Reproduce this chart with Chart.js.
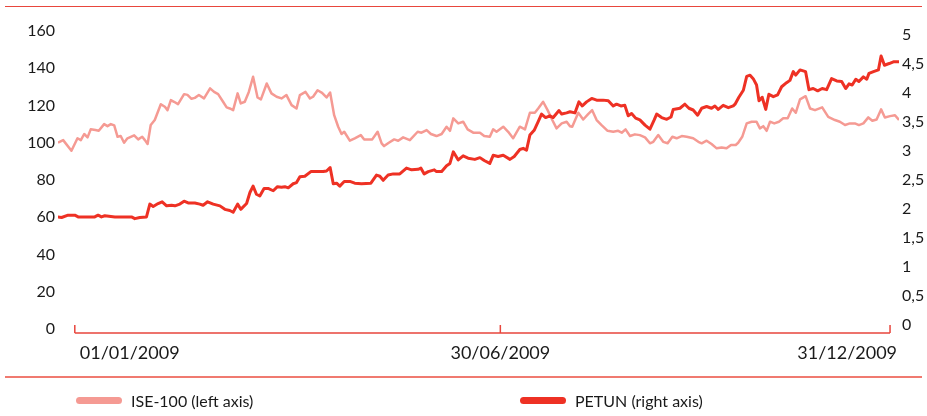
<!DOCTYPE html>
<html>
<head>
<meta charset="utf-8">
<script src="https://cdn.jsdelivr.net/npm/chart.js@4.4.1/dist/chart.umd.min.js"></script>
<style>
  html, body { margin: 0; padding: 0; background: #fff; }
  body { width: 927px; height: 416px; position: relative; overflow: hidden; font-family: Lato, sans-serif; color: #1a1a1a; }
  #chart { position: absolute; left: 0; top: 0; }
  .rule { position: absolute; left: 5px; width: 917px; }
  .rule.top { top: 6px; height: 1px; background: #e8463d; }
  .rule.bottom { top: 376px; height: 2px; background: #f07a70; }
  .legend { position: absolute; top: 390px; height: 20px; display: flex; align-items: center; font-size: 16px; }
  .swatch { width: 46px; height: 7px; border-radius: 4px; margin-right: 9px; }
</style>
</head>
<body>
<canvas id="chart" width="927" height="416"></canvas>
<div class="rule top"></div>
<div class="rule bottom"></div>
<div class="legend" style="left:76px"><span class="swatch" style="background:#f59a93"></span>ISE-100 (left axis)</div>
<div class="legend" style="left:520px"><span class="swatch" style="background:#ee3124"></span>PETUN (right axis)</div>
<script>
// ISE-100 (sol eksen) - gün (01/01/2009 = 0) ve değer
const iseDays = [-7.5,-5.2,-1.5,1.2,2.7,4.2,5.7,7.1,9.2,10.7,13.1,14.6,16.1,17.6,19.1,20.5,22.0,23.5,26.5,28.3,
  30.1,31.3,32.5,33.9,35.7,38.4,40.2,41.4,42.9,44.3,46.1,48.8,50.3,52.1,53.6,55.4,57.7,60.4,62.2,64.0,
  66.2,67.8,69.2,70.7,72.7,74.1,75.9,77.7,79.6,81.6,83.1,85.7,87.8,90.1,92.3,94.5,96.8,99.0,100.5,103.0,
  105.0,106.4,108.4,110.4,112.4,114.0,115.8,117.6,119.1,120.3,122.8,125.0,127.7,129.2,131.3,132.8,135.2,137.0,138.1,140.2,
  142.6,144.4,146.6,149.6,153.1,154.8,157.1,159.0,161.5,163.8,166.0,167.5,169.0,171.2,173.4,175.4,177.9,180.9,182.8,185.3,
  186.8,188.3,191.3,193.5,195.7,198.7,201.0,203.2,205.4,206.9,209.1,211.1,213.2,215.1,217.4,219.6,221.1,222.1,224.8,227.0,
  229.2,231.0,233.0,235.2,237.9,240.4,242.6,244.2,245.9,247.9,250.1,252.3,254.6,256.8,258.3,260.5,262.7,264.7,266.8,268.7,
  271.0,273.2,276.1,278.4,279.9,282.1,284.3,286.6,288.8,291.0,293.0,295.1,296.2,298.0,300.0,302.2,304.4,305.9,307.4,308.9,
  310.4,312.3,314.4,316.3,318.3,320.3,321.9,323.8,326.3,328.3,330.5,333.7,336.4,339.4,341.6,343.9,346.1,348.3,350.1,352.1,
  354.3,356.1,358.0,360.0,361.7,364.0,366.2,368.0];
const iseValues = [100.0,101.4,95.7,102.4,101.4,104.7,102.9,107.2,106.8,106.4,110.0,108.9,110.0,109.3,103.2,103.6,100.0,102.4,104.0,101.8,
  103.2,101.4,99.3,109.5,112.2,120.7,119.3,117.5,122.9,122.0,120.7,126.1,125.7,123.6,124.1,125.6,123.8,129.2,127.3,126.1,
  122.0,119.0,118.4,117.5,126.5,121.1,122.0,127.3,135.4,124.3,123.3,131.8,126.5,124.7,123.8,125.6,120.2,118.4,125.6,127.3,
  123.8,124.7,128.2,126.8,124.3,127.0,114.8,108.6,104.7,105.9,101.1,102.4,104.1,101.8,101.8,101.8,105.9,99.7,98.2,100.0,
  101.8,101.1,102.9,101.4,105.9,105.4,106.8,104.7,103.6,104.7,108.6,106.4,113.1,110.4,111.3,107.2,105.4,105.4,103.6,103.2,
  107.2,105.9,108.6,105.9,102.4,108.6,107.2,116.1,116.1,118.4,122.0,117.5,112.2,107.7,110.4,111.3,108.9,108.6,116.1,112.5,
  115.4,117.5,112.2,109.5,106.4,105.9,106.4,105.4,107.2,103.6,104.5,104.1,102.9,99.7,100.5,104.1,100.5,99.7,103.2,102.4,
  103.6,103.2,102.4,100.5,99.7,101.1,99.3,97.0,97.5,97.0,98.8,98.8,100.0,103.2,110.4,111.3,111.3,107.7,108.9,106.4,
  111.3,110.4,111.3,113.1,113.1,118.4,116.1,123.3,125.0,118.4,117.5,119.0,113.9,112.2,111.3,109.5,110.4,110.4,109.5,110.4,
  113.6,111.8,112.5,117.9,113.6,114.3,114.8,112.2];

// PETUN (sağ eksen)
const petunDays = [-7.7,-5.9,-3.0,0,1.5,5.9,8.9,10.4,11.9,13.4,17.9,22.3,25.3,26.8,29.0,32.0,33.5,35.0,37.2,39.0,
  41.0,43.2,44.7,46.9,48.8,50.6,53.6,55.8,57.3,59.3,61.8,64.8,67.0,69.2,70.7,72.7,74.1,76.7,78.2,79.6,
  81.1,82.6,84.5,86.3,88.6,90.5,92.3,93.8,95.3,97.5,99.0,100.5,102.7,105.4,107.9,110.9,112.4,114.0,115.4,116.9,
  118.3,120.3,122.8,125.0,128.0,132.2,134.7,136.2,137.7,139.9,142.2,145.1,148.1,150.4,153.3,154.5,156.0,157.8,160.5,161.5,
  163.8,166.0,167.5,169.0,171.2,173.4,175.6,178.6,180.9,182.8,185.3,186.8,189.0,191.3,194.3,196.2,198.7,200.2,201.7,203.2,
  205.1,206.9,208.4,210.2,212.1,213.6,216.2,217.4,219.6,221.1,223.3,225.1,226.6,228.5,230.8,233.0,235.9,238.2,240.4,241.9,
  243.8,245.6,247.1,248.6,250.4,252.3,254.6,256.8,258.7,259.8,262.0,264.3,266.2,267.2,270.2,272.4,274.2,276.1,278.1,279.9,
  282.1,284.3,285.8,287.3,289.5,291.8,294.0,294.8,296.5,298.5,300.0,301.5,302.9,304.4,305.5,306.9,308.5,309.9,311.9,313.8,
  315.6,317.8,319.3,320.8,321.9,323.8,326.3,327.8,329.7,331.7,333.7,335.7,337.9,340.2,342.4,344.2,345.7,347.1,348.7,350.1,
  352.1,353.6,354.6,356.6,358.8,360.0,361.5,363.6,365.5,368.0];
const petunValues = [1.86,1.85,1.89,1.89,1.86,1.86,1.86,1.89,1.86,1.88,1.86,1.86,1.86,1.83,1.85,1.86,2.08,2.04,2.09,2.12,
  2.05,2.06,2.05,2.08,2.13,2.10,2.10,2.08,2.06,2.12,2.08,2.05,1.99,1.97,1.94,2.08,1.99,2.09,2.28,2.39,
  2.25,2.22,2.35,2.35,2.31,2.38,2.37,2.38,2.36,2.43,2.45,2.55,2.56,2.64,2.64,2.64,2.65,2.71,2.43,2.44,
  2.39,2.47,2.47,2.44,2.43,2.44,2.58,2.56,2.49,2.58,2.60,2.60,2.70,2.67,2.68,2.70,2.60,2.64,2.67,2.64,
  2.64,2.74,2.78,2.98,2.84,2.91,2.87,2.85,2.88,2.83,2.78,2.92,2.90,2.92,2.85,2.90,3.02,3.04,3.01,3.27,
  3.35,3.50,3.63,3.57,3.60,3.57,3.69,3.63,3.65,3.67,3.65,3.84,3.77,3.84,3.90,3.87,3.87,3.86,3.77,3.80,
  3.77,3.78,3.60,3.64,3.56,3.53,3.44,3.37,3.53,3.63,3.57,3.54,3.58,3.71,3.73,3.80,3.73,3.70,3.61,3.73,
  3.76,3.73,3.77,3.71,3.78,3.74,3.77,3.80,3.92,4.04,4.28,4.30,4.24,4.13,3.86,3.92,3.71,3.97,3.93,3.96,
  4.10,4.17,4.21,4.36,4.30,4.39,4.36,4.05,4.07,4.03,4.07,4.05,4.24,4.20,4.19,4.07,4.15,4.13,4.23,4.19,
  4.27,4.23,4.33,4.36,4.39,4.63,4.47,4.50,4.53,4.53];

// Eksenler
const axisTickDays = [0, 190, 364];
const axisTickLabels = ['01/01/2009', '30/06/2009', '31/12/2009'];
const leftTicks = [0, 20, 40, 60, 80, 100, 120, 140, 160];
const rightTicks = [0, 0.5, 1, 1.5, 2, 2.5, 3, 3.5, 4, 4.5, 5];

const RED = '#e8463d';
const tickFont = { family: 'Lato, sans-serif', size: 16 };

// Alt eksen çizgisi ve tarih etiketleri
const dateAxis = {
  id: 'dateAxis',
  afterDraw(chart) {
    const ctx = chart.ctx;
    const xs = chart.scales.x;
    const yLine = chart.scales.yLeft.bottom + 4;
    const px = axisTickDays.map(d => xs.getPixelForValue(d));
    ctx.save();
    ctx.strokeStyle = RED;
    ctx.lineWidth = 1.5;
    ctx.beginPath();
    ctx.moveTo(px[0], yLine);
    ctx.lineTo(px[px.length - 1], yLine);
    px.forEach(p => { ctx.moveTo(p, yLine); ctx.lineTo(p, yLine - 8); });
    ctx.stroke();
    ctx.fillStyle = '#1a1a1a';
    ctx.font = '18px Lato, sans-serif';
    ctx.textBaseline = 'middle';
    const ty = yLine + 20;
    ctx.textAlign = 'left';
    ctx.fillText(axisTickLabels[0], px[0] + 5, ty);
    ctx.textAlign = 'center';
    ctx.fillText(axisTickLabels[1], px[1], ty);
    ctx.textAlign = 'right';
    ctx.fillText(axisTickLabels[2], px[2] + 7, ty);
    ctx.restore();
  }
};

new Chart(document.getElementById('chart'), {
  type: 'line',
  data: {
    datasets: [{
      label: 'PETUN (right axis)',
      data: petunDays.map((d, i) => ({ x: d, y: petunValues[i] })),
      yAxisID: 'yRight',
      borderColor: '#ee3124',
      borderWidth: 3,
      pointRadius: 0,
      borderJoinStyle: 'round',
      order: 0
    }, {
      label: 'ISE-100 (left axis)',
      data: iseDays.map((d, i) => ({ x: d, y: iseValues[i] })),
      yAxisID: 'yLeft',
      borderColor: '#f59a93',
      borderWidth: 2.5,
      pointRadius: 0,
      borderJoinStyle: 'round',
      order: 1
    }]
  },
  options: {
    responsive: false,
    animation: false,
    devicePixelRatio: 1,
    layout: { padding: { top: 31, bottom: 87, left: 0, right: 0 } },
    plugins: { legend: { display: false }, tooltip: { enabled: false } },
    scales: {
      x: {
        type: 'linear',
        display: false,
        min: iseDays[0],
        max: iseDays[iseDays.length - 1]
      },
      yLeft: {
        position: 'left',
        min: 0,
        max: 160,
        afterBuildTicks: s => { s.ticks = leftTicks.map(v => ({ value: v })); },
        afterFit: s => { s.width = 58; },
        grid: { display: false, drawTicks: false },
        border: { display: false },
        ticks: { color: '#1a1a1a', font: tickFont, padding: 3 }
      },
      yRight: {
        position: 'right',
        min: -0.07,
        max: 5.06,
        afterBuildTicks: s => { s.ticks = rightTicks.map(v => ({ value: v })); },
        afterFit: s => { s.width = 28; },
        grid: { display: false, drawTicks: false },
        border: { display: false },
        ticks: {
          color: '#1a1a1a', font: tickFont, padding: 3,
          callback: v => String(v).replace('.', ',')
        }
      }
    }
  },
  plugins: [dateAxis]
});
</script>
</body>
</html>
